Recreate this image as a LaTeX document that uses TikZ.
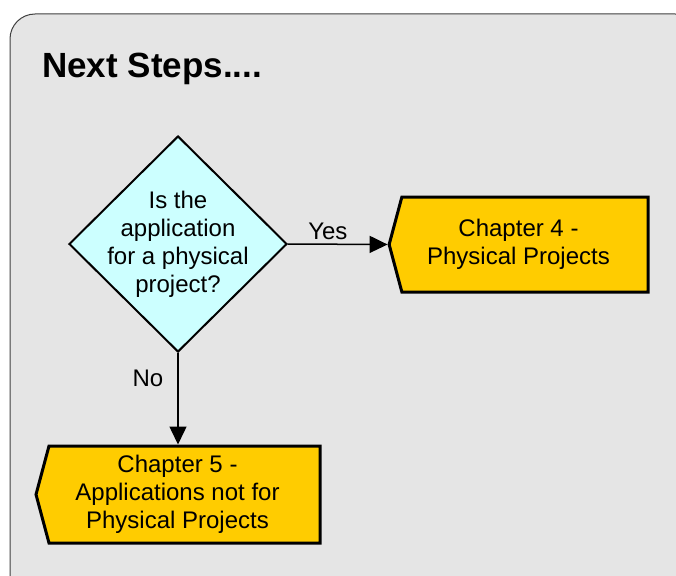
\documentclass[tikz,border=0pt]{standalone}
\usepackage{fontspec}
\setmainfont{Liberation Sans}
\usetikzlibrary{shapes.geometric, shapes.symbols, arrows.meta, positioning}
\definecolor{panelgray}{rgb}{0.90, 0.90, 0.90}
\definecolor{edgegray}{rgb}{0.25, 0.25, 0.25}
\definecolor{paleaqua}{rgb}{0.80, 1.0, 1.0}
\definecolor{chapteryellow}{rgb}{1.0, 0.80, 0.0}

\begin{document}
\begin{tikzpicture}[x=1pt, y=-1pt]
			\tikzstyle{decision}=[diamond, aspect=1, draw=black, line width=2pt, fill=paleaqua, minimum width=218pt, minimum height=216pt, inner sep=-8pt, align=center, font=\fontsize{24}{28}\selectfont]
			\tikzstyle{chapter}=[signal, signal to=west, signal from=nowhere, signal pointer angle=150, draw=black, line width=3pt, fill=chapteryellow, inner sep=0pt]
			\tikzstyle{chaptext}=[inner sep=0pt, align=center, font=\fontsize{24}{28}\selectfont]
			\tikzstyle{flow}=[line width=1.5pt, -{Triangle[length=18pt, width=17pt]}]
			\tikzstyle{lbl}=[inner sep=0pt, font=\fontsize{24}{28}\selectfont]
			%%
			\useasboundingbox (0,0) rectangle (676,575);
			\clip (0,0) rectangle (676,575);
			\draw [rounded corners=25pt, fill=panelgray, draw=edgegray, line width=1pt] (10,14) rectangle (700,600);
			
			\node (title) at (42,78) [anchor=base west, inner sep=0pt, font=\fontsize{35}{40}\selectfont\bfseries] {Next Steps....};
			
			\node (q) at (178,244) [decision] {Is the\\application\\for a physical\\project?};
			\node (ch4) at (525,244.5) [chapter, minimum width=259pt, minimum height=95pt,
				label={[chaptext, xshift=-6.5pt]center:Chapter 4 -\\Physical Projects}] {};
			\node (ch5) at (184.5,494.5) [chapter, minimum width=284pt, minimum height=97pt,
				label={[chaptext, xshift=-7pt]center:Chapter 5 -\\Applications not for\\Physical Projects}] {};
			
			\draw [flow] (q.east) -- node [lbl, pos=0.4, above=4pt] (yes) {Yes} (ch4.west);
			\draw [flow] (q.south) -- node [lbl, pos=0.28, left=14pt] (no) {No} (q.south |- ch5.north);
			\end{tikzpicture}
\end{document}
